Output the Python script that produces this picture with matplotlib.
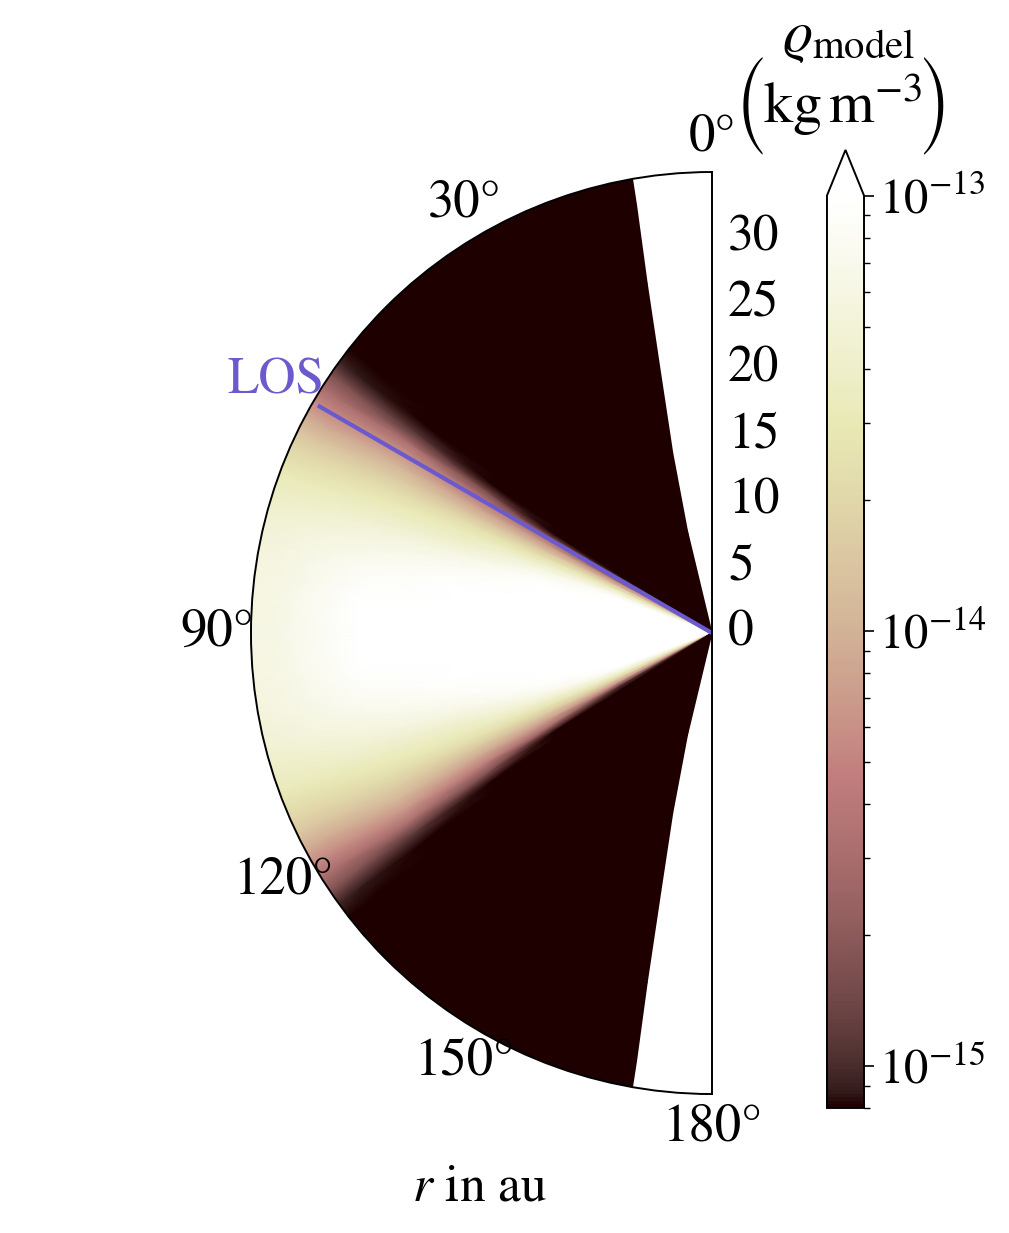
import numpy as np
import matplotlib.pyplot as plt
from matplotlib.colors import LogNorm

plt.rcParams['font.family'] = 'STIXGeneral'
plt.rcParams['mathtext.fontset'] = 'stix'
plt.rcParams['font.size'] = 35

# model density, log10(rho / kg m^-3)
# angles measured from the pole, upper half only (the disk is mirror symmetric)
theta_deg = [10, 30, 50, 52, 54, 56, 58, 60, 62, 64, 66, 68, 70, 73, 76, 80, 85, 90]
r_au = [0, 8, 14, 20, 27, 33, 36]
theta_edge = [15, 13.5, 12.3, 11.2, 10.5, 10, 9.9]   # inner edge of the model grid near the pole

D = -15.5   # below the colour range
logrho_r0 = [D, D, D, D, D, D, D, -14.99, -14.26, -13.80, -13.46, -13.21, -13.0,
             -12.79, -12.58, -12.37, -12.16, -12.16]
logrho_r8 = [D, D, D, D, D, D, D, -14.99, -14.26, -13.80, -13.46, -13.21, -13.0,
             -12.79, -12.58, -12.37, -12.16, -12.16]
logrho_r14 = [D, D, D, D, D, D, -15.2, -14.57, -14.15, -13.84, -13.59, -13.38, -13.21,
              -13.04, -12.90, -12.69, -12.48, -12.37]
logrho_r20 = [D, D, D, D, D, D, -14.80, -14.38, -14.09, -13.84, -13.63, -13.48, -13.38,
              -13.21, -13.08, -12.94, -12.79, -12.69]
logrho_r27 = [D, D, D, D, D, -14.95, -14.50, -14.20, -13.97, -13.80, -13.65, -13.52, -13.43,
              -13.29, -13.19, -13.08, -13.0, -12.96]
logrho_r33 = [D, D, D, D, -15.06, -14.78, -14.51, -14.26, -14.05, -13.86, -13.71, -13.59,
              -13.48, -13.38, -13.29, -13.23, -13.21, -13.19]
logrho_r36 = [D, D, D, D, -15.0, -14.72, -14.47, -14.24, -14.03, -13.86, -13.72, -13.61,
              -13.50, -13.41, -13.33, -13.27, -13.25, -13.23]
profiles = [logrho_r0, logrho_r8, logrho_r14, logrho_r20, logrho_r27, logrho_r33, logrho_r36]

rmax = 35
los_deg = 60
los_len = 34.4
vmin, vmax = 8e-16, 1e-13

# build the (theta, r) mesh, mirroring to the lower half
cols_t, cols_r, cols_v = [], [], []
for r, edge, prof in zip(r_au, theta_edge, profiles):
    th = [edge] + theta_deg[1:]
    th_full = th + [180 - a for a in th[::-1][1:]]
    v_full = prof + prof[::-1][1:]
    cols_t.append(th_full)
    cols_r.append([r] * len(th_full))
    cols_v.append(v_full)
TH = np.deg2rad(np.array(cols_t).T)
RR = np.array(cols_r).T
RHO = 10 ** np.array(cols_v).T

fig = plt.figure(figsize=(10.09, 12.33), dpi=100)
# polar axes is square; the half disk sits centred in it
ax = fig.add_axes([0.0203, 0.1127, 0.9138, 0.7478], projection='polar')
ax.set_theta_zero_location('N')
ax.set_theta_direction(1)
ax.set_thetamin(0)
ax.set_thetamax(180)

pcm = ax.pcolormesh(TH, RR, RHO, shading='gouraud', cmap='pink',
                    norm=LogNorm(vmin=vmin, vmax=vmax))
ax.plot([np.deg2rad(los_deg)] * 2, [0, los_len], color='slateblue', lw=3)
ax.text(np.deg2rad(los_deg), 38.2, 'LOS', color='slateblue', ha='center', va='center',
        fontsize=37)

ax.set_rlim(0, rmax)
ax.grid(False)
ax.set_xticks(np.deg2rad([0, 30, 90, 120, 150, 180]))
ax.set_yticks([0, 5, 10, 15, 20, 25, 30])
ax.tick_params(axis='x', pad=14, labelsize=38)
ax.tick_params(axis='y', pad=8, labelsize=37)
for sp in ax.spines.values():
    sp.set_linewidth(1.4)

fig.text(0.4757, 0.0365, r'$r$ in au', ha='center', va='center', fontsize=37)

cax = fig.add_axes([0.8196, 0.1014, 0.0367, 0.777])
cb = fig.colorbar(pcm, cax=cax, extend='max')
cb.outline.set_linewidth(1.4)
cax.tick_params(which='major', length=7.5, width=1.2)
cax.tick_params(which='minor', length=4, width=1.0)

# colorbar title: quantity, then unit in tall parentheses
fig.text(0.841, 0.9690, r'$\varrho_\mathrm{model}$', ha='center', va='center', fontsize=42)
fig.text(0.8355, 0.9148, r'$\mathrm{kg\,m^{-3}}$', ha='center', va='center', fontsize=42)
fig.text(0.7443, 0.9148, '(', family='STIXSizeTwoSym', size=38, ha='center', va='center')
fig.text(0.9257, 0.9148, ')', family='STIXSizeTwoSym', size=38, ha='center', va='center')

fig.savefig('out.png', dpi=100)
